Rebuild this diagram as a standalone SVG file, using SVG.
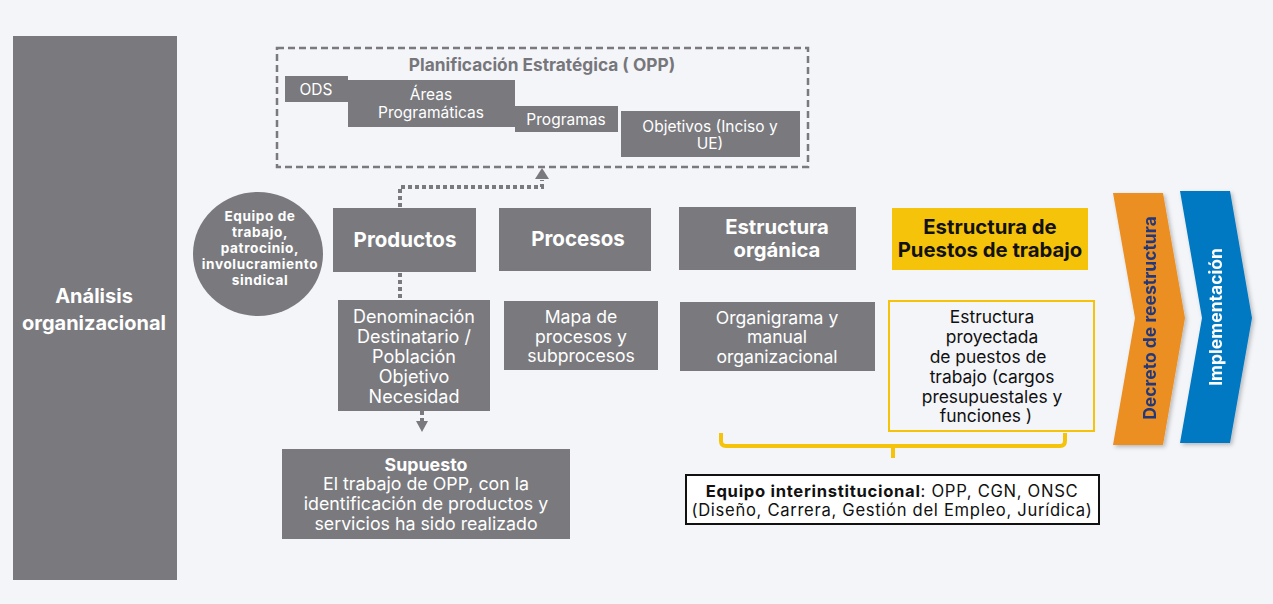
<svg xmlns="http://www.w3.org/2000/svg" width="1273" height="604" viewBox="0 0 1273 604">
<defs>
<style>
.g{fill:#7a7a7e}
.t{font-family:Inter,"Open Sans","Liberation Sans",sans-serif;text-anchor:middle}
.w{fill:#ffffff}
.b{font-weight:bold}
.k{fill:#111111}
.conn{fill:none;stroke:#7a7a7e;stroke-width:4;stroke-dasharray:4 3}
</style>
<filter id="sh" x="-10%" y="-5%" width="130%" height="115%">
<feDropShadow dx="2" dy="2" stdDeviation="2" flood-color="#000" flood-opacity="0.25"/>
</filter>
</defs>
<rect width="1273" height="604" fill="#f4f5f9"/>

<g id="analisis">
<rect class="g" x="13" y="36" width="164" height="544"/>
<text class="t w b" font-size="20"><tspan x="94" y="303">Análisis</tspan><tspan x="94" y="330">organizacional</tspan></text>
</g>

<g id="planificacion">
<rect x="277" y="48" width="531" height="119" fill="none" stroke="#7a7a7e" stroke-width="2.5" stroke-dasharray="7 4"/>
<text class="t b" fill="#77777b" font-size="17.3" x="542" y="71">Planificación Estratégica ( OPP)</text>
<rect class="g" x="285" y="76" width="63" height="26"/>
<text class="t w" font-size="15.5" x="316" y="95">ODS</text>
<rect class="g" x="348" y="80" width="167" height="47"/>
<text class="t w" font-size="15.5"><tspan x="431" y="100">Áreas</tspan><tspan x="431" y="118">Programáticas</tspan></text>
<rect class="g" x="515" y="106" width="103" height="26"/>
<text class="t w" font-size="15.5" x="566" y="125">Programas</text>
<rect class="g" x="621" y="111" width="179" height="46"/>
<text class="t w" font-size="15.5"><tspan x="710" y="132">Objetivos (Inciso y</tspan><tspan x="710" y="149">UE)</tspan></text>
</g>

<g id="equipo">
<ellipse class="g" cx="258" cy="254" rx="65" ry="62"/>
<text class="t w b" font-size="13.6" letter-spacing="0.6"><tspan x="260" y="221">Equipo de</tspan><tspan x="260" y="237">trabajo,</tspan><tspan x="260" y="253">patrocinio,</tspan><tspan x="260" y="269">involucramiento</tspan><tspan x="260" y="285">sindical</tspan></text>
</g>

<g id="productos">
<rect class="g" x="333" y="208" width="143" height="64"/>
<text class="t w b" font-size="20.5" x="405" y="247">Productos</text>
</g>

<g id="procesos">
<rect class="g" x="499" y="208" width="152" height="63"/>
<text class="t w b" font-size="20.5" x="578" y="246">Procesos</text>
</g>

<g id="estructura-organica">
<rect class="g" x="679" y="207" width="177" height="63"/>
<text class="t w b" font-size="20.3"><tspan x="777" y="234">Estructura</tspan><tspan x="777" y="257">orgánica</tspan></text>
</g>

<g id="estructura-puestos">
<rect x="892" y="208" width="196" height="62" fill="#f5c30a"/>
<text class="t k b" font-size="20.3"><tspan x="990" y="234">Estructura de</tspan><tspan x="990" y="257">Puestos de trabajo</tspan></text>
</g>

<g id="denominacion">
<rect class="g" x="338" y="300" width="152" height="111"/>
<text class="t w" font-size="18"><tspan x="414" y="323">Denominación</tspan><tspan x="414" y="343">Destinatario /</tspan><tspan x="414" y="363">Población</tspan><tspan x="414" y="383">Objetivo</tspan><tspan x="414" y="403">Necesidad</tspan></text>
</g>

<g id="mapa">
<rect class="g" x="504" y="301" width="154" height="69"/>
<text class="t w" font-size="17.6"><tspan x="581" y="323">Mapa de</tspan><tspan x="581" y="343">procesos y</tspan><tspan x="581" y="362">subprocesos</tspan></text>
</g>

<g id="organigrama">
<rect class="g" x="680" y="302" width="195" height="69"/>
<text class="t w" font-size="17.6"><tspan x="777" y="324">Organigrama y</tspan><tspan x="777" y="343">manual</tspan><tspan x="777" y="363">organizacional</tspan></text>
</g>

<g id="estructura-proyectada">
<rect x="889" y="301" width="205" height="130" fill="#f4f5f9" stroke="#f5c30a" stroke-width="2"/>
<text class="t k" font-size="17.4"><tspan x="992" y="323">Estructura</tspan><tspan x="992" y="343">proyectada</tspan><tspan x="988" y="363">de puestos de</tspan><tspan x="992" y="383">trabajo (cargos</tspan><tspan x="992" y="403">presupuestales y</tspan><tspan x="986" y="422">funciones )</tspan></text>
</g>

<g id="supuesto">
<rect class="g" x="282" y="449" width="288" height="90"/>
<text class="t w" font-size="17.8"><tspan class="b" x="426" y="471">Supuesto</tspan><tspan x="426" y="490">El trabajo de OPP, con la</tspan><tspan x="426" y="510">identificación de productos y</tspan><tspan x="426" y="530">servicios ha sido realizado</tspan></text>
</g>

<g id="equipo-interinstitucional">
<rect x="686" y="475" width="413" height="49" fill="#ffffff" stroke="#111111" stroke-width="2"/>
<text class="t k" font-size="16.6" letter-spacing="0.7"><tspan x="892" y="497"><tspan class="b">Equipo interinstitucional</tspan>: OPP, CGN, ONSC</tspan><tspan x="892" y="516">(Diseño, Carrera, Gestión del Empleo, Jurídica)</tspan></text>
</g>

<g id="decreto" filter="url(#sh)">
<polygon points="1113,193 1163,193 1185,318 1163,445 1113,445 1135,318" fill="#ec8f22"/>
<text class="t b" fill="#23397a" font-size="17.5" transform="translate(1156,318) rotate(-90)">Decreto de reestructura</text>
</g>

<g id="implementacion" filter="url(#sh)">
<polygon points="1180,191 1230,191 1252,318 1230,443 1180,443 1202,318" fill="#0479c2"/>
<text class="t w b" font-size="17.5" transform="translate(1222,317) rotate(-90)">Implementación</text>
</g>

<g id="connectors">
<polyline class="conn" points="400,207 400,187 542,187 542,180"/>
<polygon points="535,179 549,179 542,168" fill="#7a7a7e"/>
<line class="conn" x1="400" y1="273" x2="400" y2="300"/>
<line class="conn" x1="422" y1="411" x2="422" y2="422"/>
<polygon points="416,421 428,421 422,432" fill="#7a7a7e"/>
<path d="M721,433 V441 Q721,446 726,446 H1060 Q1065,446 1065,441 V433 M893,446 V458" fill="none" stroke="#f5c30a" stroke-width="4"/>
</g>
</svg>
